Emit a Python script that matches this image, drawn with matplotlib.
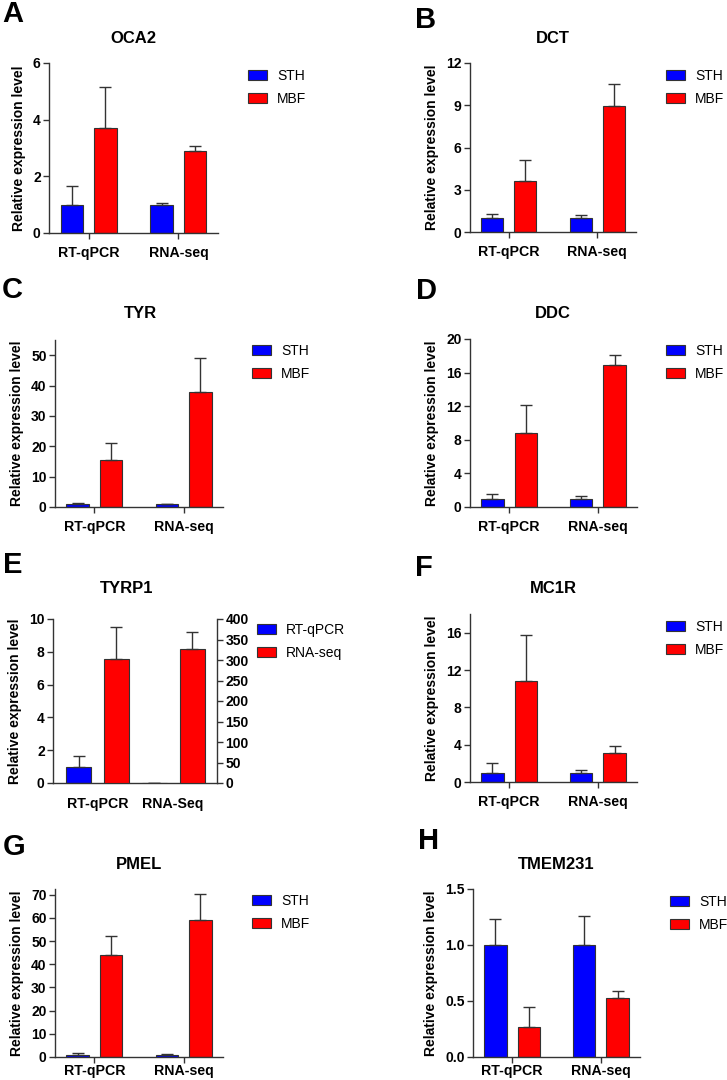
import numpy as np
import matplotlib
matplotlib.use("Agg")
import matplotlib.pyplot as plt
from matplotlib.ticker import MultipleLocator

plt.rcParams["font.family"] = ["Liberation Sans", "DejaVu Sans"]
plt.rcParams["font.weight"] = "bold"
plt.rcParams["axes.labelweight"] = "bold"

# ---- data (mean, upper error) ----
groups = ["RT-qPCR", "RNA-seq"]
groups_e = ["RT-qPCR", "RNA-Seq"]

oca2_sth = [1.0, 1.0]
oca2_sth_err = [0.65, 0.05]
oca2_mbf = [3.7, 2.88]
oca2_mbf_err = [1.47, 0.19]

dct_sth = [1.0, 1.0]
dct_sth_err = [0.3, 0.2]
dct_mbf = [3.65, 8.95]
dct_mbf_err = [1.45, 1.55]

tyr_sth = [1.0, 1.0]
tyr_sth_err = [0.3, 0.1]
tyr_mbf = [15.4, 37.8]
tyr_mbf_err = [5.8, 11.4]

ddc_sth = [1.0, 1.0]
ddc_sth_err = [0.5, 0.35]
ddc_mbf = [8.85, 16.9]
ddc_mbf_err = [3.3, 1.2]

# TYRP1: RT-qPCR on left axis, RNA-seq on right axis
tyrp1_qpcr = [1.0, 0.03]
tyrp1_qpcr_err = [0.65, 0.0]
tyrp1_rnaseq = [303, 328]
tyrp1_rnaseq_err = [78, 40]

mc1r_sth = [1.0, 1.0]
mc1r_sth_err = [1.05, 0.3]
mc1r_mbf = [10.8, 3.1]
mc1r_mbf_err = [4.9, 0.8]

pmel_sth = [1.0, 1.0]
pmel_sth_err = [0.6, 0.1]
pmel_mbf = [44.0, 59.0]
pmel_mbf_err = [8.3, 11.5]

tmem_sth = [1.0, 1.0]
tmem_sth_err = [0.23, 0.26]
tmem_mbf = [0.27, 0.53]
tmem_mbf_err = [0.18, 0.055]

BLUE = "#0000ff"
RED = "#ff0000"
DARK = "#333333"

W, H = 727, 1080
fig = plt.figure(figsize=(W / 100, H / 100), dpi=100)


def px_axes(left, top, right, bottom):
    return fig.add_axes([left / W, 1 - bottom / H, (right - left) / W, (bottom - top) / H])


def style_axes(ax, xpad=5):
    for s in ["top", "right"]:
        ax.spines[s].set_visible(False)
    for s in ["left", "bottom"]:
        ax.spines[s].set_color(DARK)
        ax.spines[s].set_linewidth(1.0)
    ax.tick_params(axis="y", length=4, width=1.0, color=DARK, pad=2, labelsize=10)
    ax.tick_params(axis="x", length=4.5, width=1.0, color=DARK, pad=xpad, labelsize=10.2)
    ax.set_ylabel("Relative expression level", fontsize=10, labelpad=5)


def draw_bars(ax, x, vals, errs, color, label, width):
    ax.bar(x, vals, width, color=color, edgecolor=DARK, linewidth=0.8, label=label,
           yerr=[np.zeros(len(errs)), errs],
           error_kw=dict(ecolor=DARK, elinewidth=1.0, capsize=4, capthick=1.0))


def add_legend(ax, hx, hy, handles=None):
    kw = dict(loc="upper left", bbox_to_anchor=(hx / W, 1 - hy / H),
              bbox_transform=fig.transFigure, frameon=False,
              prop=dict(weight="normal", size=10), handlelength=1.35,
              handleheight=0.7, handletextpad=0.75, labelspacing=0.65,
              borderpad=0, borderaxespad=0)
    if handles is not None:
        ax.legend(handles=handles, **kw)
    else:
        ax.legend(**kw)


def panel(rect, sth, sth_err, mbf, mbf_err, ymax, step, title, title_xy,
          letter, letter_xy, leg_xy, xpad=5):
    ax = px_axes(*rect)
    x = np.arange(len(groups))
    draw_bars(ax, x - 0.187, sth, sth_err, BLUE, "STH", 0.25)
    draw_bars(ax, x + 0.187, mbf, mbf_err, RED, "MBF", 0.25)
    ax.set_xlim(-0.44, 1.44)
    ax.set_ylim(0, ymax)
    ax.yaxis.set_major_locator(MultipleLocator(step))
    ax.set_xticks(x, groups)
    style_axes(ax, xpad)
    add_legend(ax, *leg_xy)
    fig.text(title_xy[0] / W, 1 - title_xy[1] / H, title, ha="center", va="baseline",
             fontsize=12, fontweight="bold")
    fig.text(letter_xy[0] / W, 1 - letter_xy[1] / H, letter, ha="left", va="baseline",
             fontsize=21, fontweight="bold")
    return ax


panel((49, 63, 218, 233), oca2_sth, oca2_sth_err, oca2_mbf, oca2_mbf_err, 6, 2,
      "OCA2", (133, 43), "A", (2, 22), (248, 69))
panel((470, 63, 636, 232), dct_sth, dct_sth_err, dct_mbf, dct_mbf_err, 12, 3,
      "DCT", (553, 43), "B", (415, 28), (666, 69))
panel((55, 340, 223, 507), tyr_sth, tyr_sth_err, tyr_mbf, tyr_mbf_err, 55, 10,
      "TYR", (140, 318), "C", (2, 298), (252, 344))
panel((470, 339, 637, 507), ddc_sth, ddc_sth_err, ddc_mbf, ddc_mbf_err, 20, 4,
      "DDC", (553, 318), "D", (416, 299), (666, 344))
panel((470, 614, 637, 782), mc1r_sth, mc1r_sth_err, mc1r_mbf, mc1r_mbf_err, 18, 4,
      "MC1R", (553, 593), "F", (415, 576), (666, 620))
panel((55, 889, 223, 1057), pmel_sth, pmel_sth_err, pmel_mbf, pmel_mbf_err, 72.5, 10,
      "PMEL", (139, 869), "G", (3, 855), (252, 894), xpad=0.5)
panel((473, 889, 640, 1057), tmem_sth, tmem_sth_err, tmem_mbf, tmem_mbf_err, 1.5, 0.5,
      "TMEM231", (556, 869), "H", (418, 849), (670, 895), xpad=0.5)

# ---- panel E: TYRP1 with two y axes ----
axe = px_axes(53, 619, 217, 783)
axe2 = axe.twinx()
xe = np.arange(len(groups_e))
draw_bars(axe, xe - 0.25, tyrp1_qpcr, tyrp1_qpcr_err, BLUE, "RT-qPCR", 0.33)
draw_bars(axe2, xe + 0.25, tyrp1_rnaseq, tyrp1_rnaseq_err, RED, "RNA-seq", 0.33)
axe.set_xlim(-0.59, 1.58)
axe.set_ylim(0, 10)
axe.yaxis.set_major_locator(MultipleLocator(2))
axe2.set_ylim(0, 400)
axe2.yaxis.set_major_locator(MultipleLocator(50))
axe.set_xticks(xe, groups_e)
style_axes(axe)
axe.tick_params(axis="x", length=0, pad=10)
axe2.spines["top"].set_visible(False)
axe2.spines["left"].set_visible(False)
axe2.spines["bottom"].set_visible(False)
axe2.spines["right"].set_color(DARK)
axe2.spines["right"].set_linewidth(1.0)
axe2.tick_params(axis="y", length=4, width=1.0, color=DARK, pad=2, labelsize=10)
h1, _ = axe.get_legend_handles_labels()
h2, _ = axe2.get_legend_handles_labels()
add_legend(axe2, 257, 623, handles=h1 + h2)
fig.text(127 / W, 1 - 593 / H, "TYRP1", ha="center", va="baseline", fontsize=12, fontweight="bold")
fig.text(3 / W, 1 - 573 / H, "E", ha="left", va="baseline", fontsize=21, fontweight="bold")

fig.savefig("out.png", dpi=100, facecolor="white")
